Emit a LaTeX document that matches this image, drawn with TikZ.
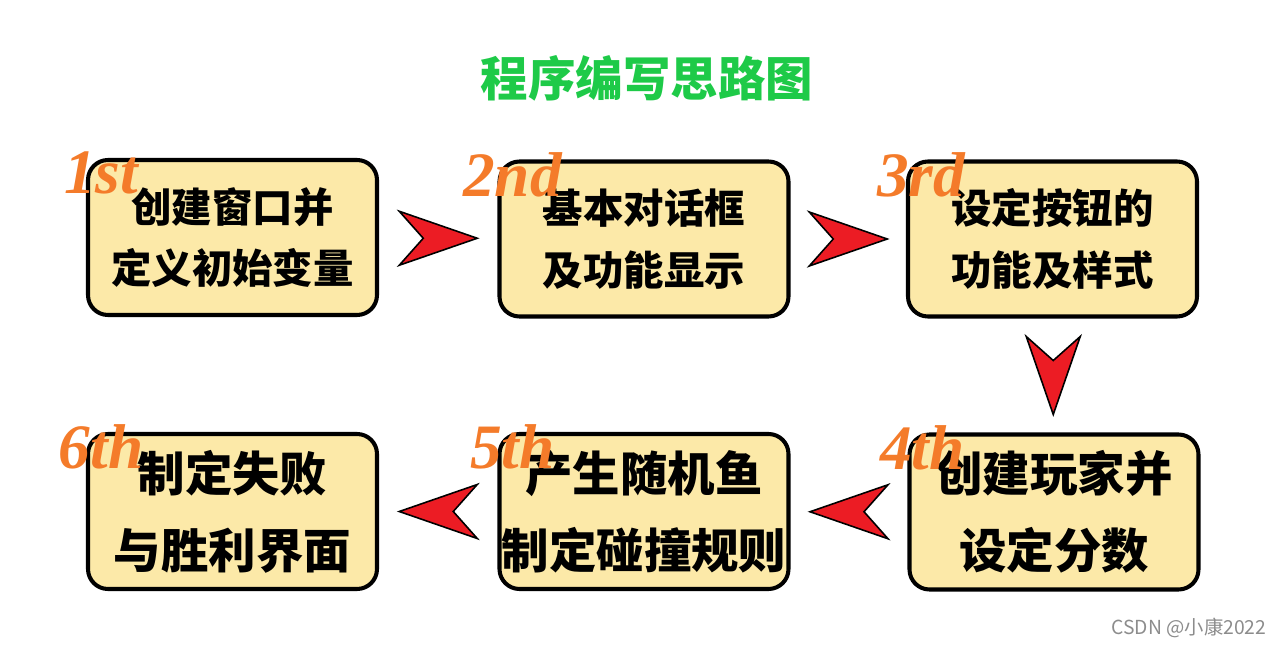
\documentclass[tikz,border=0pt]{standalone}
\usepackage{fontspec}
\setmainfont{Noto Sans CJK SC}
\newfontfamily\ordfont{Liberation Serif}
\usetikzlibrary{calc,positioning}
\definecolor{boxyellow}{HTML}{FCE9A8}
\definecolor{titlegreen}{HTML}{1ECA48}
\definecolor{ordorange}{HTML}{F47B2A}
\definecolor{arrowred}{HTML}{EC1C24}

\begin{document}
\begin{tikzpicture}[box/.style={rounded corners=0.4cm,draw=black,line width=2.3pt,fill=boxyellow,minimum width=5.78cm,minimum height=3.1cm,inner xsep=0pt,align=center,font=\bfseries\fontsize{23}{35}\selectfont},bigbox/.style={box,font=\bfseries\fontsize{27}{44}\selectfont},ord/.style={text=ordorange,font=\ordfont\bfseries\itshape\fontsize{36}{36}\selectfont},chevron/.pic={\draw[fill=arrowred,line width=0.9pt,line join=miter] (-0.78,0.54)--(0.78,0)--(-0.78,-0.54)--(-0.3,0)--cycle;}]
\useasboundingbox (0,0) rectangle (25.68,-12.96);
\node[text=titlegreen,font=\bfseries\fontsize{27}{27}\selectfont] (title) at (12.94,-1.56) {程序编写思路图};
\node[box] (b1) at (4.65,-4.75) {创建窗口并\\定义初始变量};\node[box] (b2) at (12.88,-4.78) {基本对话框\\及功能显示};\node[box] (b3) at (21.05,-4.78) {设定按钮的\\功能及样式};
\node[bigbox] (b4) at (21.08,-10.24) {创建玩家并\\设定分数};\node[bigbox] (b5) at (12.88,-10.23) {产生随机鱼\\制定碰撞规则};\node[bigbox] (b6) at (4.65,-10.23) {制定失败\\与胜利界面};
\foreach \b/\t in {b1/1st,b2/2nd,b3/3rd,b4/4th,b5/5th,b6/6th}{\node[ord] (o\b) at ($(\b.north west)+(0.3,-0.3)$) {\t};}
\foreach \a/\b/\r in {b1/b2/0,b2/b3/0,b3/b4/-90,b4/b5/180,b5/b6/180}{\path ($(\a)!0.5!(\b)$) pic[rotate=\r] {chevron};}
\node[text=black!45,font=\fontsize{11}{11}\selectfont] (mark) at (23.78,-12.56) {CSDN @小康2022};
\end{tikzpicture}
\end{document}
